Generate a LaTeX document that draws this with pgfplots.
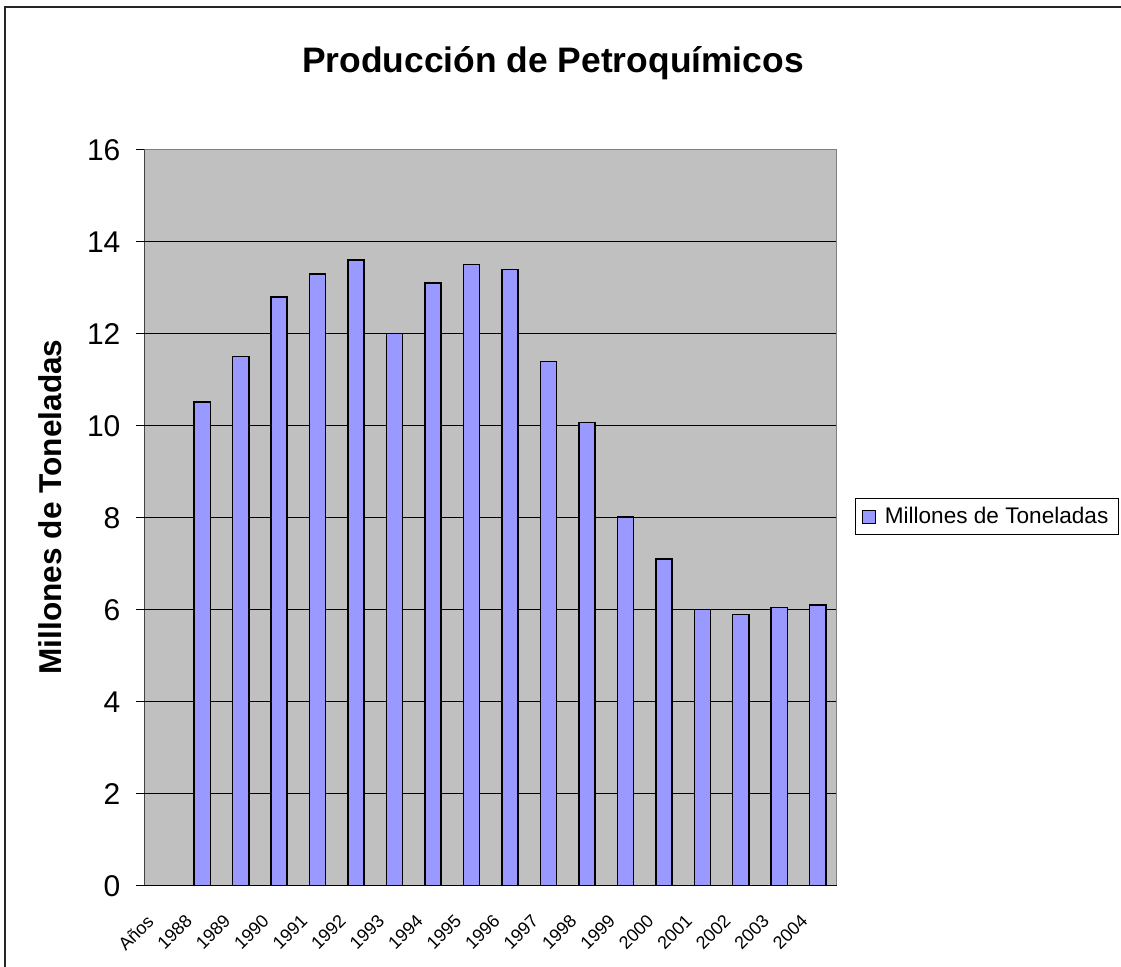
\documentclass[border=0pt]{standalone}
\usepackage{fontspec}
\setmainfont{Liberation Sans}
\usepackage{pgfplots}
\pgfplotsset{compat=1.18}
\definecolor{plotgray}{HTML}{C0C0C0}
\definecolor{barblue}{HTML}{9999FF}
\definecolor{bordergray}{HTML}{808080}
\pgfplotsset{sqlegend/.style={legend image code/.code={\draw[##1, line width=0.5pt] (0pt,-3.25pt) rectangle (6.5pt,3.25pt); \path (9pt,0pt);}}}
\begin{document}
\begin{tikzpicture}
\useasboundingbox (0,0) rectangle (560.5pt,483.5pt);
\draw[line width=1pt, black!85] (2.5pt,-5pt) -- (2.5pt,480pt) -- (570pt,480pt);
\node[anchor=base, font=\fontsize{17.7}{20}\selectfont\bfseries] at (276.5pt,447pt) {Producción de Petroquímicos};
\node[rotate=90, font=\fontsize{15.8}{18}\selectfont\bfseries] at (25pt,230pt) {Millones de Toneladas};
\begin{axis}[
  at={(72.25pt,40.65pt)}, anchor=south west,
  width=346.25pt, height=368pt, scale only axis,
  xmin=0, xmax=18, ymin=0, ymax=16,
  ytick={0,2,...,16},
  xtick={0.5,1.5,...,17.5},
  xticklabels={Años,1988,1989,1990,1991,1992,1993,1994,1995,1996,1997,1998,1999,2000,2001,2002,2003,2004},
  minor xtick={0,1,...,18},
  xtick style={draw=none},
  minor tick style={black, line width=0.5pt},
  ytick style={black, line width=0.5pt},
  minor tick length=3pt, major tick length=4pt,
  tick align=outside,
  xtick pos=left, ytick pos=left,
  ymajorgrids, major grid style={black, line width=0.5pt},
  axis line style={draw=none},
  axis background/.style={fill=plotgray},
  /pgf/number format/assume math mode=true,
  xticklabel style={xshift=-9pt, yshift=-5pt, rotate=45, anchor=north east, font=\fontsize{9}{11}\selectfont},
  yticklabel style={xshift=-4.5pt, font=\fontsize{15}{17}\selectfont},
  ybar, bar width=0.42,
  legend style={at={(1.026,0.5016)}, anchor=west, draw=black, line width=0.5pt,
    font=\fontsize{11.3}{13}\selectfont, inner xsep=3pt, inner ysep=2pt},
]
\addplot[fill=barblue, draw=black, line width=0.75pt, sqlegend]
  coordinates {
  (1.5,10.52) (2.5,11.5) (3.5,12.8) (4.5,13.3) (5.5,13.6) (6.5,12.0)
  (7.5,13.1) (8.5,13.5) (9.5,13.4) (10.5,11.4) (11.5,10.07) (12.5,8.02)
  (13.5,7.1) (14.5,6.0) (15.5,5.9) (16.5,6.05) (17.5,6.1)
  };
\addlegendentry{Millones de Toneladas}
\draw[bordergray, line width=0.75pt] (rel axis cs:0,1) -- (rel axis cs:1,1) -- (rel axis cs:1,0);
\draw[black, line width=0.75pt] (rel axis cs:0,1) -- (rel axis cs:0,0) -- (rel axis cs:1,0);
\end{axis}
\end{tikzpicture}
\end{document}
